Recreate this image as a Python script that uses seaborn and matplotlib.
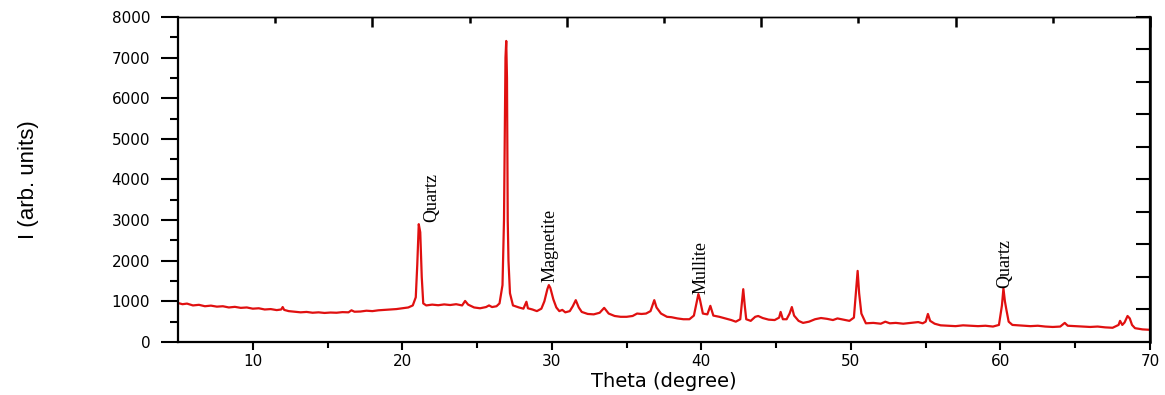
import matplotlib
matplotlib.use("Agg")
import matplotlib.pyplot as plt
import seaborn as sns
import pandas as pd

theta = [5.0, 5.3, 5.6, 6.0, 6.4, 6.8, 7.2, 7.6, 8.0, 8.4, 8.8, 9.2, 9.6, 10.0, 10.4, 10.8, 11.2, 11.6, 11.9, 12.0, 12.1,
         12.4, 12.8, 13.2, 13.6, 14.0, 14.4, 14.8, 15.2, 15.6, 16.0, 16.4, 16.6, 16.8, 17.2, 17.6, 18.0, 18.4, 18.8,
         19.2, 19.6, 20.0, 20.4, 20.7, 20.9, 21.0, 21.1, 21.2, 21.3, 21.4, 21.6, 22.0, 22.4, 22.8, 23.2, 23.6, 24.0,
         24.2, 24.4, 24.8, 25.2, 25.6, 25.8, 26.0, 26.3, 26.5, 26.7, 26.8, 26.9, 26.95, 27.0, 27.05, 27.1, 27.2, 27.4,
         27.8, 28.1, 28.3, 28.4, 28.7, 29.0, 29.3, 29.5, 29.7, 29.8, 29.9, 30.1, 30.3, 30.5, 30.7, 30.9, 31.2, 31.4,
         31.6, 31.8, 32.0, 32.4, 32.8, 33.2, 33.5, 33.8, 34.2, 34.6, 35.0, 35.4, 35.7, 36.0, 36.3, 36.6, 36.85, 37.0,
         37.3, 37.7, 38.0, 38.4, 38.8, 39.2, 39.5, 39.7, 39.8, 39.9, 40.1, 40.4, 40.6, 40.8, 41.2, 41.6, 42.0, 42.3,
         42.6, 42.75, 42.8, 42.9, 43.0, 43.3, 43.6, 43.8, 44.1, 44.5, 44.9, 45.2, 45.3, 45.45, 45.7, 45.9, 46.05,
         46.2, 46.5, 46.8, 47.2, 47.6, 48.0, 48.4, 48.8, 49.1, 49.5, 49.9, 50.2, 50.35, 50.45, 50.55, 50.7, 51.0,
         51.5, 52.0, 52.3, 52.6, 53.0, 53.5, 54.0, 54.5, 54.8, 55.0, 55.15, 55.3, 55.6, 56.0, 56.5, 57.0, 57.5, 58.0,
         58.5, 59.0, 59.5, 59.9, 60.1, 60.2, 60.3, 60.4, 60.55, 60.8, 61.2, 61.6, 62.0, 62.5, 63.0, 63.5, 64.0, 64.3,
         64.5, 65.0, 65.5, 66.0, 66.5, 67.0, 67.5, 67.9, 68.0, 68.15, 68.3, 68.5, 68.65, 68.8, 69.0, 69.5, 70.0]

intensity = [960, 930, 945, 900, 915, 880, 895, 870, 880, 850, 865, 840, 850, 820, 830, 800, 810, 785, 800, 860, 790,
             760, 745, 730, 740, 720, 730, 715, 725, 720, 735, 730, 780, 745, 750, 770, 760, 780, 790,
             800, 810, 830, 850, 900, 1100, 1900, 2900, 2700, 1600, 950, 900, 920, 905, 925, 910, 930, 900,
             1010, 920, 850, 830, 860, 900, 860, 880, 950, 1400, 3000, 7000, 7410, 6500, 3000, 2000, 1200, 900,
             850, 820, 990, 830, 800, 760, 820, 1000, 1300, 1400, 1330, 1050, 850, 760, 790, 730, 760, 880,
             1030, 850, 740, 690, 680, 720, 840, 700, 640, 620, 620, 640, 700, 690, 700, 760, 1030, 850,
             700, 620, 610, 580, 560, 560, 650, 1000, 1180, 1050, 700, 680, 890, 650, 620, 580, 540, 500,
             560, 1100, 1300, 900, 560, 520, 620, 640, 590, 550, 540, 600, 740, 560, 560, 700, 860,
             650, 520, 470, 500, 560, 590, 570, 540, 580, 550, 520, 600, 1300, 1750, 1200, 700, 460,
             470, 450, 500, 460, 470, 450, 470, 490, 460, 500, 690, 520, 450, 410, 400, 390, 410, 400,
             390, 400, 380, 420, 900, 1320, 1000, 790, 500, 420, 410, 400, 390, 400, 380, 370, 380, 470,
             400, 390, 380, 370, 380, 360, 350, 420, 520, 420, 480, 640, 580, 420, 340, 310, 300]

labels = ["Quartz", "Magnetite", "Mullite", "Quartz"]
label_theta = [21.95, 29.9, 40.0, 60.3]
label_base = [2950, 1480, 1180, 1330]

x_major = [10, 20, 30, 40, 50, 60, 70]
x_minor = [15, 25, 35, 45, 55, 65]
y_major = [0, 1000, 2000, 3000, 4000, 5000, 6000, 7000, 8000]
y_minor = [500, 1500, 2500, 3500, 4500, 5500, 6500, 7500]
top_major = [18, 31, 44, 57, 70]
top_minor = [11.5, 24.5, 37.5, 50.5, 63.5]
right_ticks = [800, 1600, 2400, 3200, 4000, 4800, 5600, 6400, 7200, 8000]

sns.set_style("ticks")
plt.rcParams['font.family'] = ['DejaVu Sans']

df = pd.DataFrame({"theta": theta, "I": intensity})

fig = plt.figure(figsize=(11.65, 3.95), dpi=100)
ax = fig.add_axes([0.1528, 0.1342, 0.8343, 0.8228])
sns.lineplot(data=df, x="theta", y="I", ax=ax, color="#e01010", linewidth=1.6, estimator=None)

ax.set_xlim(5, 70)
ax.set_ylim(0, 8000)
ax.set_xticks(x_major)
ax.set_xticks(x_minor, minor=True)
ax.set_yticks(y_major)
ax.set_yticks(y_minor, minor=True)
ax.tick_params(axis="both", which="both", color="black", labelcolor="black")
ax.tick_params(axis="both", which="major", labelsize=11, width=1.5)
ax.tick_params(axis="y", which="major", length=12, pad=8, direction="out")
ax.tick_params(axis="y", which="minor", length=6, width=1.5, direction="out")
ax.tick_params(axis="x", which="major", length=6, pad=3, direction="out")
ax.tick_params(axis="x", which="minor", length=4, width=1.5, direction="out")
for s in ax.spines.values():
    s.set_linewidth(1.6)
    s.set_visible(True)
    s.set_color("black")
ax.spines["top"].set_linewidth(1.0)

secx = ax.secondary_xaxis("top")
secx.set_xticks(top_major, labels=[""] * len(top_major))
secx.set_xticks(top_minor, labels=[""] * len(top_minor), minor=True)
secx.tick_params(which="major", direction="in", length=7, width=1.8, color="black")
secx.tick_params(which="minor", direction="in", length=4, width=1.8, color="black")
secx.spines["top"].set_linewidth(1.0)
secx.spines["top"].set_color("black")

secy = ax.secondary_yaxis("right")
secy.set_yticks(right_ticks, labels=[""] * len(right_ticks))
secy.tick_params(which="major", direction="in", length=10, width=1.5, color="black")
secy.spines["right"].set_linewidth(1.8)
secy.spines["right"].set_color("black")

ax.set_xlabel("Theta (degree)", fontsize=14, labelpad=2, color="black")
ax.set_ylabel("I (arb. units)", fontsize=16, labelpad=52, color="black",
              family=["Liberation Sans Narrow", "Liberation Sans", "DejaVu Sans"])

for txt, tx, ty in zip(labels, label_theta, label_base):
    ax.text(tx, ty, txt, rotation=90, ha="center", va="bottom", fontsize=13,
            family=["Liberation Serif", "DejaVu Serif"], color="black")

fig.savefig("out.png", dpi=100)
